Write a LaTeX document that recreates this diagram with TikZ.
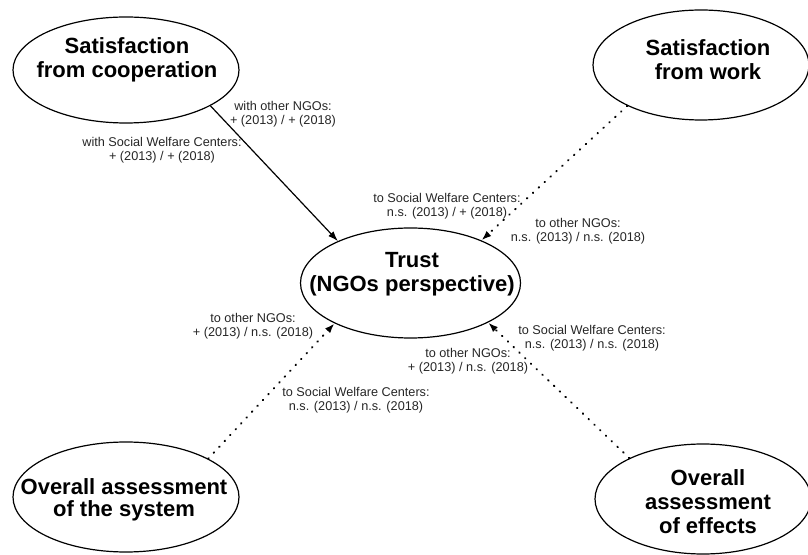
\documentclass[tikz,border=0pt]{standalone}
\usepackage{fontspec}
\setmainfont{Liberation Sans}
\usetikzlibrary{arrows.meta,shapes.geometric}
\begin{document}
\begin{tikzpicture}[x=1pt,y=1pt,
  construct/.style={draw, ellipse, line width=1.2pt, inner sep=0pt},
  constructtext/.style={font=\fontsize{22}{24}\selectfont\bfseries, align=center, inner sep=0pt},
  pathlabel/.style={font=\fontsize{12.7}{14}\selectfont, align=center, inner sep=0pt, text=black!85},
  effect/.style={line width=1.2pt, -{Latex[length=10pt,width=7pt]}},
  weakeffect/.style={line width=2pt, line cap=round, dash pattern=on 0.6pt off 7.4pt,
    -{Latex[length=10pt,width=7pt]}}
]
\clip (0,0) rectangle (808,554);

% latent constructs
\node[construct, minimum width=226pt, minimum height=106pt] (coop)    at (126,484) {};
\node[construct, minimum width=216pt, minimum height=110pt] (work)    at (701,489) {};
\node[construct, minimum width=220pt, minimum height=110pt] (trust)   at (410.5,271) {};
\node[construct, minimum width=226pt, minimum height=110pt] (system)  at (126,57) {};
\node[construct, minimum width=216pt, minimum height=110pt] (effects) at (703,55) {};

% construct names
\node[constructtext] (cooptext)    at (127,494)   {Satisfaction\\from cooperation};
\node[constructtext] (worktext)    at (708,494)   {Satisfaction\\from work};
\node[constructtext] (trusttext)   at (412,279.5) {Trust\\(NGOs perspective)};
\node[constructtext, font=\fontsize{22}{22}\selectfont\bfseries] (systemtext) at (124,54) {Overall assessment\\of the system};
\node[constructtext] (effectstext) at (708,52)    {Overall\\assessment\\of effects};

% paths
\draw[effect]     (coop.-23.5)    -- (trust.150.9);
\draw[weakeffect] (work.209.6)    -- (trust.31.3);
\draw[weakeffect] (system.25.5)   -- (trust.208.96);
\draw[weakeffect] (effects.151.7) -- (trust.-27.5);

% path labels
\node[pathlabel] (l1) at (283,440) {with other NGOs:\\+ (2013) / + (2018)};
\node[pathlabel] (l2) at (162,404) {with Social Welfare Centers:\\+ (2013) / + (2018)};
\node[pathlabel] (l3) at (447,348) {to Social Welfare Centers:\\n.s. (2013) / + (2018)};
\node[pathlabel] (l4) at (578,323) {to other NGOs:\\n.s. (2013) / n.s. (2018)};
\node[pathlabel] (l5) at (253,228) {to other NGOs:\\+ (2013) / n.s. (2018)};
\node[pathlabel] (l6) at (356,154) {to Social Welfare Centers:\\n.s. (2013) / n.s. (2018)};
\node[pathlabel] (l7) at (592,216) {to Social Welfare Centers:\\n.s. (2013) / n.s. (2018)};
\node[pathlabel] (l8) at (468,193) {to other NGOs:\\+ (2013) / n.s. (2018)};
\end{tikzpicture}
\end{document}
